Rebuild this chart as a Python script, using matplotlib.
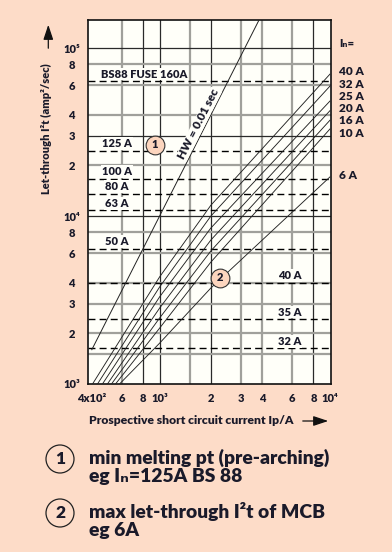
import matplotlib
matplotlib.use("Agg")
import matplotlib.pyplot as plt
from matplotlib.patches import Circle
from matplotlib.transforms import IdentityTransform

# ---- data (current in A, I2t in A^2 s) ----
mcb_ratings = ["40 A", "32 A", "25 A", "20 A", "16 A", "10 A", "6 A"]
mcb_i_start = [404, 432, 462, 494, 522, 551, 582]          # where each curve leaves 10^3
mcb_i2t_1k = [4340, 3780, 3300, 2830, 2470, 2150, 1750]    # at Ip = 1000 A
mcb_i2t_2k = [11600, 10000, 8490, 7200, 6200, 5320, 3730]  # at Ip = 2000 A
mcb_i2t_10k = [70000, 59400, 48400, 42400, 37200, 33000, 17100]  # at Ip = 10^4 A

fuse_labels = ["BS88 FUSE 160A", "125 A", "100 A", "80 A", "63 A", "50 A", "40 A", "35 A", "32 A"]
fuse_i2t = [63500, 24400, 16600, 13600, 10800, 6400, 4000, 2430, 1630]

hw_current = [400, 4000]
hw_i2t = [1600, 160000]

xticks = [400, 600, 800, 1000, 2000, 3000, 4000, 6000, 8000, 10000]
xtick_labels = ["4x10²", "6", "8", "10³", "2", "3", "4", "6", "8", "10⁴"]
yticks = [1e3, 2e3, 3e3, 4e3, 6e3, 8e3, 1e4, 2e4, 3e4, 4e4, 6e4, 8e4, 1e5]
ytick_labels = ["10³", "2", "3", "4", "6", "8", "10⁴", "2", "3", "4", "6", "8", "10⁵"]

# ---- style ----
PEACH = "#fddcc8"
PAPER = "#fffff9"
CIRCLE_FILL = "#fcd5be"
INK = "#1a1a2a"
W, H = 392, 552

plt.rcParams['font.family'] = ['Lato', 'DejaVu Sans']
plt.rcParams['font.weight'] = 'heavy'


def px(x, y):
    """figure pixel (from top-left) -> figure fraction"""
    return x / W, 1 - y / H


fig = plt.figure(figsize=(W / 100, H / 100), dpi=100, facecolor=PEACH)
ax = fig.add_axes([88 / W, 1 - 384 / H, (330.7 - 88) / W, 364 / H])
ax.set_facecolor(PAPER)
ax.set_xscale("log")
ax.set_yscale("log")
ax.set_xlim(380, 10100)
ax.set_ylim(1000, 147000)

# grid: mix of dark thin and grey thick lines like the print
for v in [800, 1000, 2000, 8000]:
    ax.axvline(v, color="#2a2a2a", lw=0.9, zorder=1)
for v in [600, 1500, 3000, 4000, 6000]:
    ax.axvline(v, color="#a0a09b", lw=1.6, zorder=1)
for v in [1e4, 3e4, 1e5]:
    ax.axhline(v, color="#2a2a2a", lw=0.9, zorder=1)
for v in [1500, 2000, 3000, 4000, 6000, 8000, 2e4, 4e4, 6e4, 8e4]:
    ax.axhline(v, color="#a0a09b", lw=1.6, zorder=1)

# fuse levels, dashed
for val in fuse_i2t:
    ax.axhline(val, color="black", lw=1.0, ls=(0, (5, 3)), zorder=2)
for i, (lab, val) in enumerate(zip(fuse_labels, fuse_i2t)):
    if i == 0:
        xpos, ha = 450, "left"
    elif lab in ("40 A", "35 A", "32 A"):
        xpos, ha = 5780, "center"
    else:
        xpos, ha = 562, "center"
    ax.annotate(lab, (xpos, val), xytext=(0, 5.2), textcoords="offset points",
                ha=ha, va="center", fontsize=8, color=INK, zorder=4,
                bbox=dict(boxstyle="square,pad=0.08", fc=PAPER, ec="none"))

# HW = 0.01 sec
ax.plot(hw_current, hw_i2t, color="#222222", lw=0.7, zorder=3)
ax.text(1700, 35300, "HW = 0.01 sec", rotation=63, ha="center", va="center",
        fontsize=8.5, color=INK, zorder=4,
        bbox=dict(boxstyle="square,pad=0.05", fc=PAPER, ec="none"))

# MCB let-through curves
for k in range(len(mcb_ratings)):
    xs = [mcb_i_start[k], 1000, 2000, 10000]
    ys = [1000, mcb_i2t_1k[k], mcb_i2t_2k[k], mcb_i2t_10k[k]]
    ax.plot(xs, ys, color="#222222", lw=0.65, zorder=3)

# numbered markers
for (xv, yv), num in [((935, 26500), "1"), ((2256, 4280), "2")]:
    ax.plot([xv], [yv], marker="o", ms=13.5, mfc=CIRCLE_FILL, mec="#333333", mew=0.8, zorder=5)
    ax.text(xv, yv, num, ha="center", va="center", fontsize=8, color=INK, zorder=6)

# ticks
ax.set_xticks(xticks, xtick_labels)
ax.set_yticks(yticks, ytick_labels)
ax.minorticks_off()
ax.tick_params(axis="both", length=0, labelsize=8, colors=INK)
ax.tick_params(axis="x", pad=6.5)
ax.tick_params(axis="y", pad=11.9)
for t in ax.get_yticklabels():
    t.set_ha("center")
for s in ax.spines.values():
    s.set_color("#111111")
    s.set_linewidth(1.2)

# right-hand rating labels
fig.text(*px(339, 43.3), "Iₙ=", fontsize=8, va="center", ha="left", color=INK)
for lab, yy in zip(mcb_ratings, [71.7, 84.3, 96.7, 108, 120.7, 133.3, 175.7]):
    fig.text(*px(339, yy), lab, fontsize=8.5, va="center", ha="left", color=INK)

# axis titles with arrows
fig.text(*px(46.5, 129), "Let-through I²t (amp²/sec)", rotation=90, ha="center", va="center",
         fontsize=8, color=INK)
fig.text(*px(89, 421), "Prospective short circuit current Ip/A", ha="left", va="center",
         fontsize=8.7, color=INK)
arrow = dict(arrowstyle="-|>,head_length=0.9,head_width=0.3", color="#111111", lw=0.9)
fig.add_artist(plt.Annotation("", xy=px(48.3, 22), xytext=px(48.3, 51),
                              xycoords="figure fraction", textcoords="figure fraction",
                              arrowprops=arrow))
fig.add_artist(plt.Annotation("", xy=px(331, 421), xytext=px(300, 421),
                              xycoords="figure fraction", textcoords="figure fraction",
                              arrowprops=arrow))

# legend block at the bottom
for cy, num in [(459, "1"), (513, "2")]:
    fig.add_artist(Circle((60, H - cy), 14, transform=IdentityTransform(),
                          fc="none", ec="#222222", lw=0.9))
    fig.text(*px(60, cy), num, ha="center", va="center", fontsize=12.5, color=INK)
legend_lines = [("min melting pt (pre-arching)", 464.3), ("eg Iₙ=125A BS 88", 481.7),
                ("max let-through I²t of MCB", 518.3), ("eg 6A", 536)]
for txt, yb in legend_lines:
    fig.text(*px(89, yb), txt, ha="left", va="baseline", fontsize=13.9, color=INK)

fig.savefig("out.png", dpi=100, facecolor=PEACH)
